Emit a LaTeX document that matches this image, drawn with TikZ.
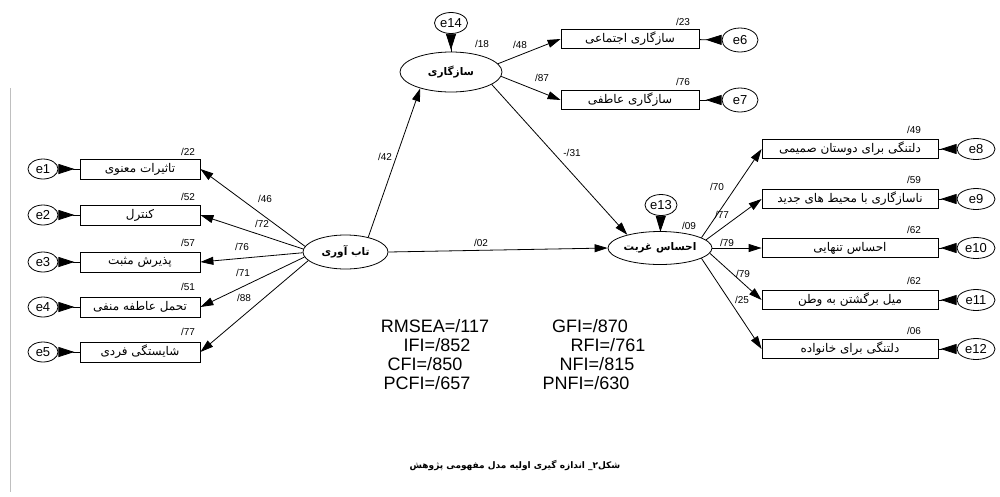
\documentclass[tikz,border=0pt]{standalone}
\usepackage{fontspec}
\setmainfont{Liberation Sans}
\newfontfamily\pfont[Script=Arabic]{DejaVu Sans}
\TeXXeTstate=1
\usetikzlibrary{arrows.meta,shapes.geometric}
\newcommand{\prs}[1]{{\pfont\beginR #1\endR}}
\begin{document}
\begin{tikzpicture}[x=1pt,y=-1pt,
  obs/.style={draw, line width=0.8pt, minimum width=120pt, minimum height=20pt, inner sep=0pt, font=\fontsize{12}{13}\selectfont},
  obsr/.style={obs, minimum width=138pt, minimum height=19pt},
  obsrr/.style={obs, minimum width=176pt, minimum height=19pt},
  lat/.style={ellipse, draw, line width=0.8pt, inner sep=0pt, font=\bfseries\fontsize{10.5}{12}\selectfont},
  err/.style={ellipse, draw, line width=0.8pt, inner sep=0pt, minimum width=30pt, minimum height=20pt, font=\fontsize{13}{15}\selectfont},
  lbl/.style={font=\fontsize{10}{12}\selectfont, inner sep=0pt},
  sarrow/.style={line width=0.8pt, -{Triangle[length=13pt,width=8pt]}},
  earrow/.style={line width=0.8pt, {Triangle[reversed,length=16pt,width=10pt]}-},
  fit/.style={font=\fontsize{18}{21}\selectfont, inner sep=0pt}]
\fill[white] (0,0) rectangle (1000,496);
\useasboundingbox (0,0) rectangle (1000,496);
\draw[black!25, line width=1pt] (10,88) -- (10,492);

% latent variables
\node[lat, minimum width=85pt, minimum height=34pt] (tab) at (345.5,252) {\prs{تاب آوری}};
\node[lat, minimum width=102pt, minimum height=40pt] (saz) at (451,72) {\prs{سازگاری}};
\node[lat, minimum width=104pt, minimum height=33pt] (gh) at (660,248) {\prs{احساس غربت}};

% left indicators
\node[obs] (b1) at (140,169) {\prs{تاثیرات معنوی}};
\node[obs] (b2) at (140,215) {\prs{کنترل}};
\node[obs] (b3) at (140,262) {\prs{پذیرش مثبت}};
\node[obs] (b4) at (140,307) {\prs{تحمل عاطفه منفی}};
\node[obs] (b5) at (140,352) {\prs{شایستگی فردی}};
\node[err] (e1) at (43,169) {e1};
\node[err] (e2) at (43,215) {e2};
\node[err] (e3) at (43,262) {e3};
\node[err] (e4) at (43,307) {e4};
\node[err] (e5) at (43,352) {e5};

% top right indicators
\node[obsr] (b6) at (630,39) {\prs{سازگاری اجتماعی}};
\node[obsr] (b7) at (630,100) {\prs{سازگاری عاطفی}};
\node[err, minimum width=36pt, minimum height=24pt] (e6) at (740,40) {e6};
\node[err, minimum width=36pt, minimum height=24pt] (e7) at (740,100) {e7};

% right indicators
\node[obsrr] (b8) at (850,149) {\prs{دلتنگی برای دوستان صمیمی}};
\node[obsrr] (b9) at (850,199) {\prs{ناسازگاری با محیط های جدید}};
\node[obsrr] (b10) at (850,248) {\prs{احساس تنهایی}};
\node[obsrr] (b11) at (850,300) {\prs{میل برگشتن به وطن}};
\node[obsrr] (b12) at (850,349) {\prs{دلتنگی برای خانواده}};
\node[err, minimum width=38pt, minimum height=21pt] (e8) at (976,149) {e8};
\node[err, minimum width=38pt, minimum height=21pt] (e9) at (976,199) {e9};
\node[err, minimum width=38pt, minimum height=21pt] (e10) at (976,248) {e10};
\node[err, minimum width=38pt, minimum height=21pt] (e11) at (976,300) {e11};
\node[err, minimum width=38pt, minimum height=21pt] (e12) at (976,349) {e12};

% disturbances
\node[err, minimum width=33pt, minimum height=21pt] (e14) at (451,23) {e14};
\node[err, minimum width=32pt, minimum height=21pt] (e13) at (661,205) {e13};

% error arrows
\foreach \i in {1,...,12} \draw[earrow] (e\i) -- (b\i);
\draw[earrow] (e14) -- (saz);
\draw[earrow] (e13) -- (gh);

% structural arrows
\draw[sarrow] (tab.172) -- (b1.east);
\draw[sarrow] (tab.176) -- (b2.east);
\draw[sarrow] (tab.181) -- (b3.east);
\draw[sarrow] (tab.187) -- (b4.east);
\draw[sarrow] (tab.193) -- (b5.east);
\draw[sarrow] (tab.33) -- (saz.208);
\draw[sarrow] (tab.east) -- (gh.west);
\draw[sarrow] (saz.10) -- (b6.west);
\draw[sarrow] (saz.-5) -- (b7.west);
\draw[sarrow] (saz.-17) -- (gh.158);
\draw[sarrow] (gh.14) -- (b8.west);
\draw[sarrow] (gh.10) -- (b9.west);
\draw[sarrow] (gh.east) -- (b10.west);
\draw[sarrow] (gh.-6) -- (b11.west);
\draw[sarrow] (gh.-14) -- (b12.west);

% loadings / path labels
\node[lbl] (l46) at (265,199) {/46};
\node[lbl] (l72) at (262,224) {/72};
\node[lbl] (l76) at (242,247) {/76};
\node[lbl] (l71) at (243,273) {/71};
\node[lbl] (l88) at (244,298) {/88};
\node[lbl] (l42) at (385,157) {/42};
\node[lbl] (l02) at (481,243) {/02};
\node[lbl] (l48) at (520,45) {/48};
\node[lbl] (l87) at (542,78) {/87};
\node[lbl] (l31) at (572,153) {-/31};
\node[lbl] (l70) at (717,187) {/70};
\node[lbl] (l77) at (722,215) {/77};
\node[lbl] (l79a) at (727,243) {/79};
\node[lbl] (l79b) at (743,274) {/79};
\node[lbl] (l25) at (742,300) {/25};

% squared multiple correlations
\node[lbl] (r1) at (188,152) {/22};
\node[lbl] (r2) at (188,197) {/52};
\node[lbl] (r3) at (188,243) {/57};
\node[lbl] (r4) at (188,287) {/51};
\node[lbl] (r5) at (188,332) {/77};
\node[lbl] (r18) at (482,44) {/18};
\node[lbl] (r09) at (689,226) {/09};
\node[lbl] (r6) at (683,22) {/23};
\node[lbl] (r7) at (683,82) {/76};
\node[lbl] (r8) at (914,130) {/49};
\node[lbl] (r9) at (914,180) {/59};
\node[lbl] (r10) at (914,230) {/62};
\node[lbl] (r11) at (914,281) {/62};
\node[lbl] (r12) at (914,331) {/06};

% fit indices
\node[fit] (f1) at (435,326) {RMSEA=/117};
\node[fit] (f2) at (437,345) {IFI=/852};
\node[fit] (f3) at (425,364) {CFI=/850};
\node[fit] (f4) at (427,383) {PCFI=/657};
\node[fit] (f5) at (590,326) {GFI=/870};
\node[fit] (f6) at (608,345) {RFI=/761};
\node[fit] (f7) at (597,364) {NFI=/815};
\node[fit] (f8) at (586,383) {PNFI=/630};

% caption
\node[font=\bfseries\fontsize{9}{11}\selectfont] (cap) at (515,465) {\prs{شکل۲\_ اندازه گیری اولیه مدل مفهومی پژوهش}};
\end{tikzpicture}
\end{document}
